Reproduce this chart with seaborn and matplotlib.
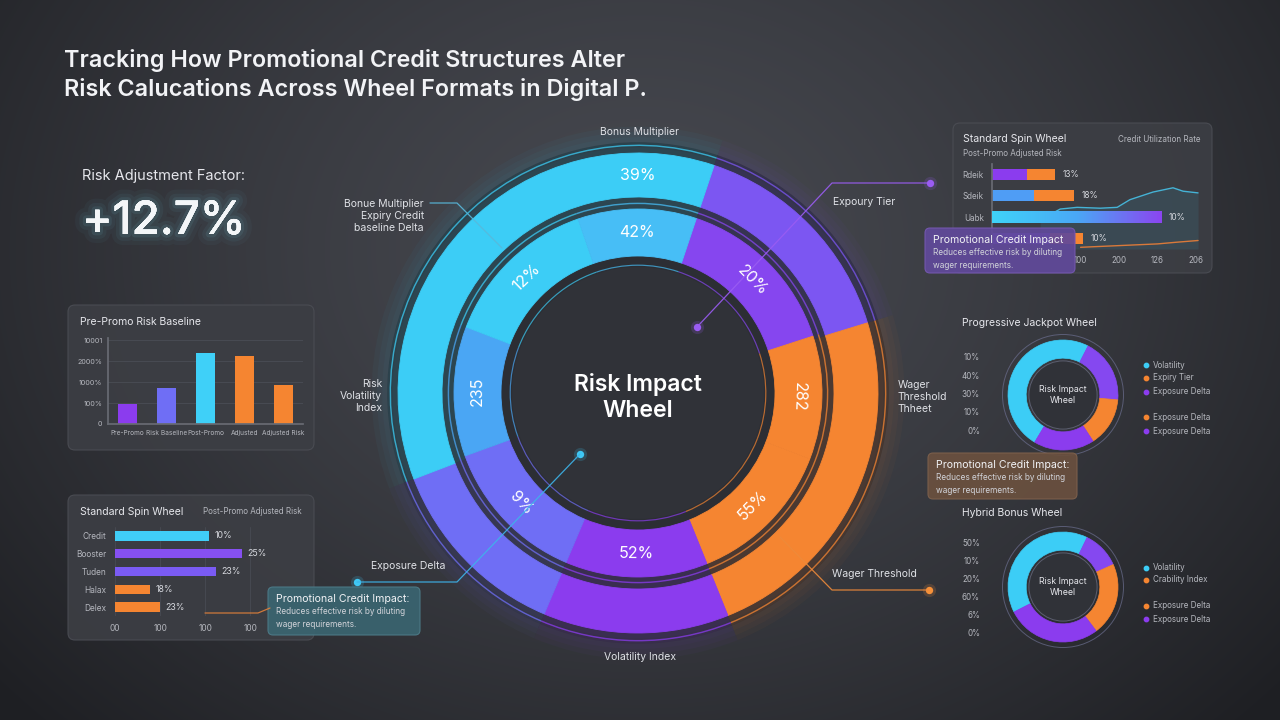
import numpy as np
import pandas as pd
import matplotlib.pyplot as plt
import matplotlib.patheffects as pe
from matplotlib.patches import FancyBboxPatch, Circle
from matplotlib.colors import LinearSegmentedColormap, to_rgb
import seaborn as sns

sns.set_theme(style="dark", rc={"axes.facecolor": "none", "figure.facecolor": "#2b2d32",
                                "text.color": "#e8e9ee", "xtick.color": "#b9bbc2",
                                "ytick.color": "#b9bbc2", "axes.edgecolor": "#6a6d75"})
plt.rcParams['font.family'] = ['Inter', 'DejaVu Sans']

W, H = 1280, 720

# ---------------- data ----------------
title = "Tracking How Promotional Credit Structures Alter\nRisk Calucations Across Wheel Formats in Digital P."
kpi_label = "Risk Adjustment Factor:"
kpi_value = "+12.7%"

# main wheel, shares in degrees, clockwise from the first boundary
wheel_outer_shares = [54.5, 85, 45, 46, 129.5]
wheel_outer_label = "39%"
wheel_inner_shares = [53.5, 39, 47, 45, 47, 41, 50, 37.5]
wheel_inner_labels = ['20%', '282', '55%', '52%', '9%', '235', '12%', '42%']
wheel_center_text = "Risk Impact\nWheel"

# pre-promo bars
baseline_stages = ['Pre-Promo', 'Risk Baseline', 'Post-Promo', 'Adjusted', 'Adjusted Risk']
baseline_values = [0.97, 1.7, 3.4, 3.25, 1.85]
baseline_ticks = ['0', '100%', '1000%', '2000%', '10001']

# standard spin wheel (left)
spin_factors = ['Credit', 'Booster', 'Tuden', 'Halax', 'Delex']
spin_values = [2.09, 2.82, 2.24, 0.78, 1.0]
spin_value_labels = ['10%', '25%', '23%', '18%', '23%']
spin_ticks = ['00', '100', '100', '100']

# standard spin wheel (top right, stacked); last row label is hidden by the callout
util_rows = ['Rdeik', 'Sdeik', 'Uabk', ' ']
util_base = [0.91, 1.09, 4.39, 1.5]
util_total = [1.64, 2.13, 4.39, 2.36]
util_value_labels = ['13%', '18%', '10%', '10%']
util_ticks = ['100', '200', '126', '206']
util_line_x = [1.25, 1.77, 2.21, 2.81, 3.25, 3.58, 4.18, 4.7, 4.96, 5.35]
util_line_y = [34, 47, 49, 48, 49, 58, 67, 72, 68, 66]
util_line2_x = [2.3, 3.3, 4.3, 4.8, 5.35]
util_line2_y = [2, 4, 6, 8, 10]

# small donuts
jackpot_shares = [48.9, 18.9, 14.4, 17.8]
jackpot_axis = ['10%', '40%', '30%', '10%', '0%']
jackpot_legend = ['Volatility', 'Expiry Tier', 'Exposure Delta', 'Exposure Delta', 'Exposure Delta']
hybrid_shares = [39.7, 11.1, 21.4, 27.8]
hybrid_axis = ['50%', '10%', '20%', '60%', '6%', '0%']
hybrid_legend = ['Volatility', 'Crability Index', 'Exposure Delta', 'Exposure Delta']

callout_title = "Promotional Credit Impact:"
callout_body = "Reduces effective risk by diluting\nwager requirements."

# ---------------- colours ----------------
CYAN, CYAN2, BLUE = '#3ccdf6', '#47bef6', '#4aa6f4'
PERI, PURPLE, VIOLET, ORANGE = '#6f6ef5', '#7c56f2', '#8b3cee', '#f58531'
TXT, SUB = '#e6e7ec', '#b5b7be'

fig = plt.figure(figsize=(12.8, 7.2), dpi=100)


def px_axes(left, top, width, height, **kw):
    return fig.add_axes([left / W, 1 - (top + height) / H, width / W, height / H], **kw)


# ---------------- background ----------------
bg = px_axes(0, 0, W, H, zorder=-5)
bg.set_xlim(0, W)
bg.set_ylim(H, 0)
bg.axis('off')
yy, xx = np.mgrid[0:H, 0:W]
d = np.clip(np.hypot(xx - 640, (yy - 250) * 1.25) / 850, 0, 1) ** 1.4
c0, c1 = np.array(to_rgb('#46484f')), np.array(to_rgb('#1e1f23'))
bg.imshow(c0 + (c1 - c0) * d[..., None], extent=(0, W, H, 0), aspect='auto', zorder=0)

for (l, t, w, h) in [(68, 305, 246, 145), (68, 495, 246, 145), (953, 123, 259, 150)]:
    bg.add_patch(FancyBboxPatch((l, t), w, h, boxstyle='round,pad=0,rounding_size=7',
                                fc='#3c3e44', ec='#4b4d54', lw=0.8, alpha=0.92, zorder=1))

bg.text(64, 75, title, fontsize=16.8, fontweight='semibold', color='#f2f3f6', va='center',
        linespacing=1.35)
bg.text(82, 176, kpi_label, fontsize=10.5, color=TXT, va='center')
kpi = bg.text(82, 222, kpi_value, fontsize=33, color='#f4f6f8', va='center', fontweight='medium')
kpi.set_path_effects([pe.withStroke(linewidth=16, foreground=(0.45, 0.88, 1.0, 0.035)),
                      pe.withStroke(linewidth=10, foreground=(0.45, 0.88, 1.0, 0.05)),
                      pe.withStroke(linewidth=5, foreground=(0.55, 0.92, 1.0, 0.08)),
                      pe.Normal()])

bg.text(80, 322, "Pre-Promo Risk Baseline", fontsize=7.5, color=TXT, va='center')
bg.text(80, 512, "Standard Spin Wheel", fontsize=7.5, color=TXT, va='center')
bg.text(302, 512, "Post-Promo Adjusted Risk", fontsize=5.8, color=SUB, va='center', ha='right')
bg.text(963, 139, "Standard Spin Wheel", fontsize=7.5, color=TXT, va='center')
bg.text(1200, 139, "Credit Utilization Rate", fontsize=5.8, color=SUB, va='center', ha='right')
bg.text(963, 153, "Post-Promo Adjusted Risk", fontsize=5.8, color=SUB, va='center')
bg.text(962, 323, "Progressive Jackpot Wheel", fontsize=7.5, color=TXT, va='center')
bg.text(962, 513, "Hybrid Bonus Wheel", fontsize=7.5, color=TXT, va='center')


def style_axes(ax, fs=6):
    ax.set_facecolor('none')
    for s in ax.spines.values():
        s.set_visible(False)
    ax.tick_params(length=0, labelsize=fs, colors=SUB)
    ax.set_xlabel('')
    ax.set_ylabel('')


bar_kw = dict(saturation=1, linewidth=0, edgecolor='none')

# ---------------- pre-promo baseline bars ----------------
ax1 = px_axes(108, 338, 195, 86)
df1 = pd.DataFrame({'stage': baseline_stages, 'risk': baseline_values})
sns.barplot(data=df1, x='stage', y='risk', hue='stage', legend=False, width=0.5,
            palette=[VIOLET, PERI, '#3fd0f8', ORANGE, ORANGE], ax=ax1, **bar_kw)
ax1.set_ylim(0, 4.1)
ax1.set_yticks(range(len(baseline_ticks)))
ax1.set_yticklabels(baseline_ticks)
style_axes(ax1, 5.2)
ax1.tick_params(axis='x', labelsize=4.7, pad=4)
ax1.tick_params(axis='y', pad=4)
ax1.spines['left'].set_visible(True)
ax1.spines['bottom'].set_visible(True)
ax1.spines['left'].set_color('#686b73')
ax1.spines['bottom'].set_color('#686b73')
ax1.yaxis.grid(True, color='#4a4d55', lw=0.6)
ax1.set_axisbelow(True)

# ---------------- standard spin wheel (left) ----------------
ax2 = px_axes(115, 527, 140, 89)
df2 = pd.DataFrame({'factor': spin_factors, 'value': spin_values})
sns.barplot(data=df2, y='factor', x='value', hue='factor', legend=False, width=0.52,
            palette=['#40cdf7', '#8650f1', '#7a5bf3', ORANGE, ORANGE], orient='h', ax=ax2,
            **bar_kw)
ax2.set_xlim(0, 3.1)
ax2.set_xticks(range(len(spin_ticks)))
ax2.set_xticklabels(spin_ticks)
style_axes(ax2, 6)
ax2.tick_params(axis='y', pad=6)
ax2.tick_params(axis='x', pad=6)
ax2.xaxis.grid(True, color='#484b53', lw=0.6)
ax2.set_axisbelow(True)
for i, (v, lab) in enumerate(zip(spin_values, spin_value_labels)):
    ax2.text(v + 0.12, i, lab, fontsize=6.3, color='#d6d8de', va='center')

# ---------------- standard spin wheel (top right) ----------------
ax3 = px_axes(992, 164, 213, 85)
sns.barplot(x=util_total, y=util_rows, color=ORANGE, width=0.52, orient='h', ax=ax3, **bar_kw)
sns.barplot(x=util_base, y=util_rows, hue=util_rows, legend=False, width=0.52,
            palette=[VIOLET, '#4f9df5', '#3fcdf7', PURPLE], orient='h', ax=ax3, **bar_kw)
grad = LinearSegmentedColormap.from_list('g', ['#3fd3f8', '#4aa8f6', '#8b45f0'])
ax3.imshow(np.linspace(0, 1, 256)[None, :], cmap=grad, aspect='auto', zorder=3,
           extent=(0, util_base[2], 2 + 0.26, 2 - 0.26))
ax3.set_xlim(0, 5.53)
ax3.set_ylim(len(util_rows) - 0.5, -0.5)
ax3.set_xticks([2.3, 3.3, 4.3, 5.3])
ax3.set_xticklabels(util_ticks)
style_axes(ax3, 5.8)
ax3.tick_params(axis='y', pad=6)
ax3.tick_params(axis='x', pad=5)
ax3.spines['left'].set_visible(True)
ax3.spines['left'].set_color('#686b73')
for i, (v, lab) in enumerate(zip(util_total, util_value_labels)):
    ax3.text(v + 0.2, i, lab, fontsize=6, color='#d6d8de', va='center')

ax3b = ax3.twinx()
ax3b.set_zorder(ax3.get_zorder() - 1)
sns.lineplot(x=util_line_x, y=util_line_y, color='#45b3d6', lw=1.0, ax=ax3b)
ax3b.fill_between(util_line_x, util_line_y, 0, color='#3aa7cc', alpha=0.12, lw=0)
sns.lineplot(x=util_line2_x, y=util_line2_y, color='#d9793a', lw=1.0, ax=ax3b)
ax3b.set_ylim(0, 100)
ax3b.set_yticks([])
ax3b.set_ylabel('')
for s in ax3b.spines.values():
    s.set_visible(False)


# ---------------- main wheel ----------------
def ring(ax, shares, colors, start, radius, width, alpha=1.0, lw=0.6):
    wedges, _ = ax.pie(shares, colors=colors, startangle=90 - start, counterclock=False,
                       radius=radius, wedgeprops=dict(width=width, linewidth=lw, alpha=alpha))
    for wd in wedges:
        wd.set_edgecolor(wd.get_facecolor())
    return wedges


R = 240.0
wax = px_axes(638 - 280, 393 - 280, 560, 560)
outer_cols = [PURPLE, ORANGE, VIOLET, PERI, CYAN]
inner_cols = ['#8646ef', ORANGE, ORANGE, VIOLET, PERI, BLUE, CYAN, CYAN2]
START = 18.5

for k in range(1, 6):
    ring(wax, wheel_outer_shares, outer_cols, START, 1.0 + 0.022 * k, 0.25 + 0.045 * k,
         alpha=0.035, lw=0)
wax.add_patch(Circle((0, 0), 1.045, fc='#2c2e34', ec='none', zorder=0.5))
ring(wax, wheel_outer_shares, outer_cols, START, 1.035, 0.006, alpha=0.75, lw=0)
ring(wax, wheel_outer_shares, outer_cols, START, 1.0, 44 / R)
ring(wax, wheel_inner_shares, inner_cols, START, 0.793, 0.006, alpha=0.75, lw=0)
ring(wax, wheel_inner_shares, inner_cols, START, 184 / R, 47 / R)
ring(wax, wheel_inner_shares, inner_cols, START, 0.535, 0.005, alpha=0.7, lw=0)
wax.add_patch(Circle((0, 0), 0.525, fc='#303238', ec='none', zorder=0.6))
wax.set_xlim(-280 / R, 280 / R)
wax.set_ylim(-280 / R, 280 / R)
wax.set_aspect('equal')
wax.axis('off')

r_lab = (184 + 137) / 2 / R
mids = START + np.cumsum(wheel_inner_shares) - np.array(wheel_inner_shares) / 2
for lab, th in zip(wheel_inner_labels, mids):
    t = th % 360
    rot = 180 - t if 100 < t < 260 else -t
    wax.text(r_lab * np.sin(np.radians(t)), r_lab * np.cos(np.radians(t)), lab,
             rotation=rot, rotation_mode='anchor', ha='center', va='center',
             fontsize=11.5, color='white', zorder=5)
wax.text(0, 217 / R, wheel_outer_label, ha='center', va='center', fontsize=11.5, color='white',
         zorder=5)
wax.text(0, -0.02, wheel_center_text, ha='center', va='center', fontsize=16.5, color='white',
         fontweight='semibold', linespacing=1.25, zorder=5)


# ---------------- small donuts ----------------
def donut(cx, cy, shares, start, axis_labels, legend_labels, legend_cols, legend_y, axis_y0, axis_dy):
    ax = px_axes(cx - 70, cy - 70, 140, 140)
    cols = [CYAN, '#8548f0', ORANGE, VIOLET]
    ax.add_patch(Circle((0, 0), 1.1, fc='none', ec='#6c6f90', lw=0.7, alpha=0.7))
    ring(ax, shares, cols, start, 1.0, 0.33, lw=0.5)
    ax.add_patch(Circle((0, 0), 0.62, fc='#303238', ec='#5c5f70', lw=0.7))
    ax.text(0, 0, "Risk Impact\nWheel", ha='center', va='center', fontsize=6.3, color=TXT,
            linespacing=1.4)
    ax.set_xlim(-70 / 55, 70 / 55)
    ax.set_ylim(-70 / 55, 70 / 55)
    ax.set_aspect('equal')
    ax.axis('off')
    for i, lab in enumerate(axis_labels):
        bg.text(980, axis_y0 + i * axis_dy, lab, fontsize=5.8, color=SUB, ha='right', va='center')
    for lab, col, y in zip(legend_labels, legend_cols, legend_y):
        bg.scatter([1146], [y], s=10, color=col, zorder=3)
        bg.text(1153, y, lab, fontsize=5.8, color=SUB, va='center')


donut(1063, 395, jackpot_shares, 211, jackpot_axis, jackpot_legend,
      [CYAN, ORANGE, VIOLET, ORANGE, VIOLET], [365, 378, 392, 417, 431], 358, 18.3)
donut(1063, 587, hybrid_shares, 243, hybrid_axis, hybrid_legend,
      [CYAN, ORANGE, ORANGE, VIOLET], [568, 580, 606, 619], 543, 18)

# ---------------- overlay: leaders, labels, callouts ----------------
ov = px_axes(0, 0, W, H, zorder=10)
ov.set_xlim(0, W)
ov.set_ylim(H, 0)
ov.axis('off')

leaders = [([430, 457, 502], [203, 203, 248], '#58b9dc'),
           ([697, 832, 930], [327, 183, 183], '#9a5cf2'),
           ([580, 457, 357], [454, 582, 582], '#3db4ea'),
           ([780, 832, 929], [537, 590, 590], '#ee8a3a'),
           ([205, 258, 270], [613, 613, 608], '#e0803a')]
for xs, ys, c in leaders:
    ov.plot(xs, ys, color=c, lw=0.9, alpha=0.9)
for x, y, c in [(930, 183, '#9a5cf2'), (697, 327, '#9a5cf2'), (580, 454, '#3fc8f5'),
                (357, 582, '#3fc8f5'), (929, 590, '#f5913a')]:
    ov.scatter([x], [y], s=90, color=c, alpha=0.18, lw=0)
    ov.scatter([x], [y], s=28, color=c, lw=0)

lab_kw = dict(fontsize=7.5, color='#dfe1e6', va='center')
ov.text(640, 132, "Bonus Multiplier", ha='center', **lab_kw)
ov.text(424, 216, "Bonue Multiplier\nExpiry Credit\nbaseline Delta", ha='right', linespacing=1.2,
        **lab_kw)
ov.text(833, 202, "Expoury Tier", ha='left', **lab_kw)
ov.text(382, 396, "Risk\nVolatility\nIndex", ha='right', linespacing=1.2, **lab_kw)
ov.text(898, 397, "Wager\nThreshold\nThheet", ha='left', linespacing=1.2, **lab_kw)
ov.text(445, 566, "Exposure Delta", ha='right', **lab_kw)
ov.text(832, 574, "Wager Threshold", ha='left', **lab_kw)
ov.text(640, 657, "Volatility Index", ha='center', **lab_kw)


def callout(x, y, w, h, fc, ec, head):
    ov.add_patch(FancyBboxPatch((x, y), w, h, boxstyle='round,pad=0,rounding_size=5',
                                fc=fc, ec=ec, lw=0.8, alpha=0.93))
    ov.text(x + 8, y + 12, head, fontsize=7.6, color='#f2f3f6', va='center')
    ov.text(x + 8, y + 31, callout_body, fontsize=5.9, color='#d2d4da', va='center',
            linespacing=1.45)


callout(268, 587, 152, 48, '#3a6470', '#4d7b88', callout_title)
callout(925, 228, 150, 45, '#60499a', '#7558b0', callout_title.rstrip(':'))
callout(928, 453, 149, 46, '#6a503f', '#7d604c', callout_title)

fig.savefig('out.png', dpi=100)
